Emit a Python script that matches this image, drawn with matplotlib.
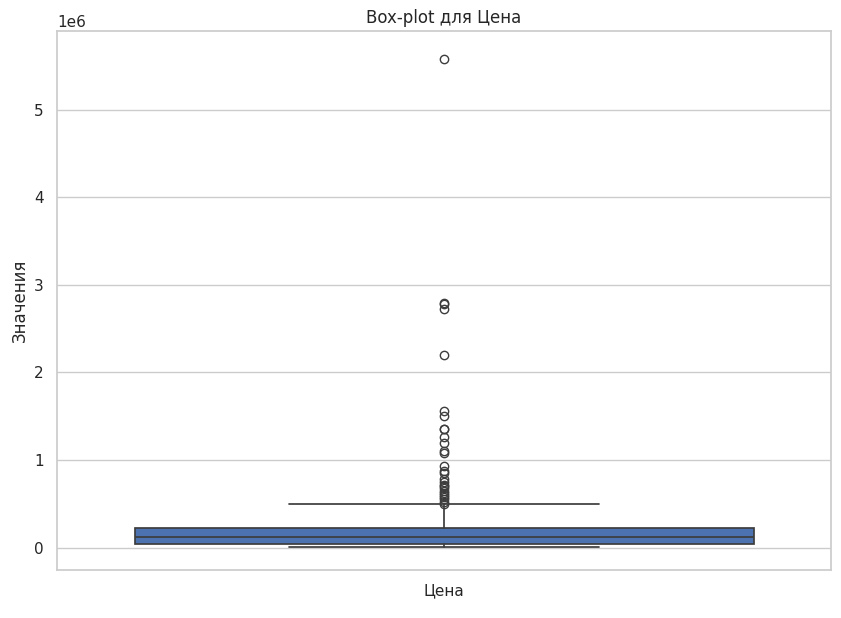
import matplotlib
matplotlib.use("Agg")
import matplotlib.pyplot as plt
import seaborn as sns

sns.set_theme(style="whitegrid")

category = "Цена"
q1 = 45000
median = 125000
q3 = 227000
whisker_low = 10000
whisker_high = 500000
outliers = [5580000, 2790000, 2780000, 2720000, 2200000, 1560000, 1500000,
            1360000, 1350000, 1260000, 1200000, 1100000, 1080000, 930000,
            880000, 850000, 780000, 750000, 720000, 700000, 680000, 650000,
            620000, 600000, 580000, 550000, 520000, 500000]

fig, ax = plt.subplots(figsize=(8.41, 6.18), dpi=100)
stats = [dict(med=median, q1=q1, q3=q3, whislo=whisker_low, whishi=whisker_high,
              fliers=outliers, label=category)]
edge = "#3d3d3d"
ax.bxp(stats, positions=[0], widths=0.8, patch_artist=True,
       boxprops=dict(facecolor="#4c72b0", edgecolor=edge, linewidth=1.25),
       medianprops=dict(color=edge, linewidth=1.25),
       whiskerprops=dict(color=edge, linewidth=1.25),
       capprops=dict(color=edge, linewidth=1.25),
       flierprops=dict(marker="o", markerfacecolor="none", markeredgecolor=edge,
                       markersize=6, linewidth=1.25),
       capwidths=0.4)
ax.set_xlim(-0.5, 0.5)
ax.set_ylim(-260000, 5900000)
ax.set_xticks([0])
ax.set_xticklabels([category])
ax.xaxis.grid(False)
ax.ticklabel_format(axis="y", style="sci", scilimits=(6, 6))
ax.set_title("Box-plot для Цена")
ax.set_ylabel("Значения")
fig.subplots_adjust(left=0.068, right=0.988, top=0.95, bottom=0.077)
fig.savefig("out.png", dpi=100)
